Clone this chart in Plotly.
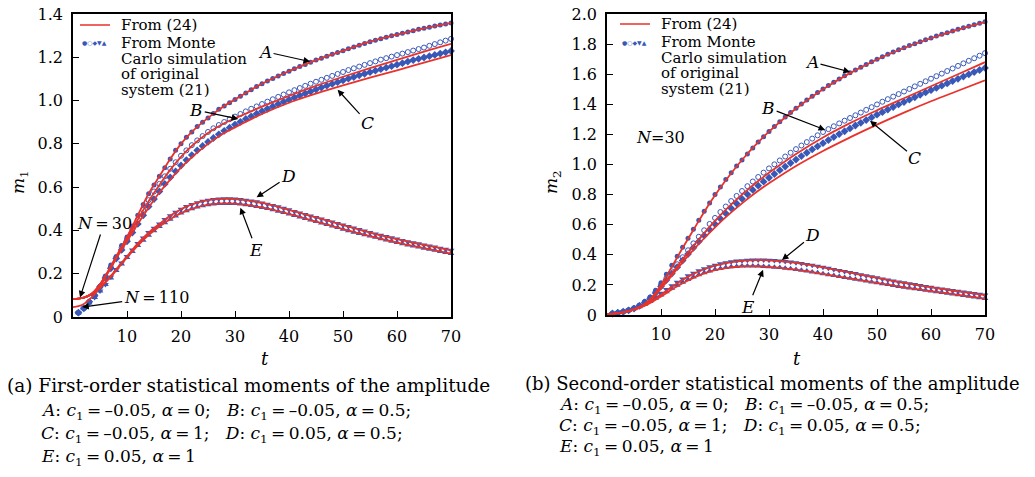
import plotly.graph_objects as go

# Zeitachsen: Monte-Carlo-Punkte (t = 1..70) und Kurven aus Gl. (24)
t_mc = list(range(1, 71))
t_th = [0, 1, 2, 3, 4, 5, 6, 7, 8, 10, 12, 14, 16, 18, 20, 22, 25, 28, 30, 35, 40, 45, 50, 55, 60, 65, 70]

# ---- (a) m1, Monte Carlo ----
m1_mc_A = [0.02, 0.04, 0.07, 0.10, 0.14, 0.19, 0.24, 0.28, 0.33, 0.37,
           0.42, 0.47, 0.52, 0.57, 0.61, 0.65, 0.69, 0.73, 0.77, 0.80,
           0.83, 0.855, 0.88, 0.90, 0.92, 0.94, 0.96, 0.975, 0.99, 1.005,
           1.02, 1.035, 1.05, 1.065, 1.078, 1.09, 1.102, 1.114, 1.125, 1.136,
           1.147, 1.157, 1.167, 1.177, 1.187, 1.196, 1.205, 1.214, 1.222, 1.23,
           1.239, 1.248, 1.256, 1.264, 1.272, 1.279, 1.286, 1.293, 1.299, 1.305,
           1.311, 1.317, 1.323, 1.329, 1.334, 1.339, 1.344, 1.349, 1.354, 1.358]
m1_mc_B = [0.02, 0.04, 0.07, 0.10, 0.14, 0.185, 0.23, 0.275, 0.32, 0.36,
           0.405, 0.45, 0.495, 0.54, 0.58, 0.615, 0.65, 0.685, 0.715, 0.745,
           0.77, 0.794, 0.816, 0.836, 0.855, 0.872, 0.887, 0.901, 0.914, 0.926,
           0.938, 0.95, 0.962, 0.973, 0.984, 0.995, 1.006, 1.017, 1.028, 1.038,
           1.048, 1.058, 1.068, 1.078, 1.087, 1.096, 1.105, 1.114, 1.123, 1.132,
           1.141, 1.149, 1.157, 1.165, 1.173, 1.181, 1.189, 1.196, 1.203, 1.21,
           1.217, 1.224, 1.231, 1.238, 1.245, 1.253, 1.261, 1.269, 1.277, 1.285]
m1_mc_C = [0.02, 0.04, 0.07, 0.10, 0.14, 0.18, 0.225, 0.27, 0.31, 0.35,
           0.39, 0.43, 0.47, 0.51, 0.545, 0.58, 0.615, 0.645, 0.673, 0.70,
           0.725, 0.748, 0.77, 0.79, 0.809, 0.827, 0.844, 0.86, 0.875, 0.889,
           0.902, 0.915, 0.927, 0.939, 0.951, 0.962, 0.973, 0.984, 0.994, 1.004,
           1.014, 1.024, 1.033, 1.042, 1.051, 1.06, 1.069, 1.077, 1.085, 1.093,
           1.101, 1.109, 1.117, 1.124, 1.131, 1.138, 1.145, 1.152, 1.159, 1.166,
           1.173, 1.18, 1.187, 1.193, 1.199, 1.205, 1.211, 1.217, 1.223, 1.229]
m1_mc_D = [0.02, 0.04, 0.065, 0.09, 0.12, 0.15, 0.185, 0.22, 0.25, 0.28,
           0.31, 0.34, 0.365, 0.39, 0.41, 0.43, 0.45, 0.468, 0.484, 0.498,
           0.51, 0.52, 0.528, 0.535, 0.54, 0.543, 0.545, 0.546, 0.546, 0.545,
           0.543, 0.54, 0.536, 0.532, 0.527, 0.521, 0.515, 0.509, 0.502, 0.495,
           0.488, 0.481, 0.474, 0.467, 0.46, 0.453, 0.446, 0.439, 0.432, 0.425,
           0.418, 0.411, 0.404, 0.397, 0.39, 0.384, 0.378, 0.372, 0.366, 0.36,
           0.354, 0.348, 0.343, 0.338, 0.333, 0.328, 0.323, 0.318, 0.313, 0.308]
m1_mc_E = [0.02, 0.04, 0.065, 0.09, 0.12, 0.15, 0.18, 0.215, 0.245, 0.275,
           0.303, 0.33, 0.355, 0.378, 0.399, 0.418, 0.436, 0.452, 0.467, 0.48,
           0.491, 0.5, 0.508, 0.514, 0.519, 0.522, 0.524, 0.525, 0.525, 0.524,
           0.522, 0.519, 0.515, 0.511, 0.506, 0.501, 0.495, 0.489, 0.483, 0.476,
           0.469, 0.462, 0.455, 0.448, 0.441, 0.434, 0.427, 0.42, 0.413, 0.406,
           0.399, 0.392, 0.386, 0.38, 0.374, 0.368, 0.362, 0.356, 0.35, 0.344,
           0.338, 0.333, 0.328, 0.323, 0.318, 0.313, 0.308, 0.303, 0.298, 0.293]

# ---- (a) m1, Gl. (24), N = 30 ----
m1_th_A = [0.083, 0.085, 0.09, 0.10, 0.12, 0.15, 0.19, 0.235, 0.28, 0.37, 0.47, 0.57, 0.65, 0.73,
           0.80, 0.855, 0.92, 0.975, 1.005, 1.078, 1.136, 1.187, 1.23, 1.272, 1.305, 1.334, 1.358]
m1_th_B = [0.083, 0.085, 0.09, 0.10, 0.12, 0.15, 0.19, 0.23, 0.275, 0.36, 0.45, 0.535, 0.61, 0.68,
           0.74, 0.79, 0.85, 0.895, 0.918, 0.972, 1.022, 1.068, 1.11, 1.15, 1.188, 1.226, 1.262]
m1_th_C = [0.083, 0.085, 0.09, 0.10, 0.12, 0.15, 0.185, 0.225, 0.27, 0.35, 0.43, 0.505, 0.575, 0.635,
           0.69, 0.738, 0.80, 0.85, 0.876, 0.938, 0.99, 1.032, 1.07, 1.106, 1.14, 1.175, 1.21]
m1_th_D = [0.083, 0.085, 0.09, 0.10, 0.115, 0.135, 0.16, 0.19, 0.22, 0.28, 0.34, 0.39, 0.43, 0.468,
           0.498, 0.52, 0.54, 0.546, 0.545, 0.527, 0.495, 0.46, 0.425, 0.39, 0.36, 0.333, 0.308]
m1_th_E = [0.083, 0.085, 0.09, 0.10, 0.115, 0.135, 0.16, 0.185, 0.215, 0.275, 0.33, 0.378, 0.418, 0.452,
           0.48, 0.5, 0.519, 0.525, 0.524, 0.506, 0.476, 0.441, 0.406, 0.374, 0.344, 0.318, 0.293]
# N = 110, nur Anfangsbereich
t_n110 = [0, 1, 2, 3, 4, 5, 6]
m1_th_n110 = [0.046, 0.05, 0.06, 0.08, 0.105, 0.14, 0.18]

# ---- (b) m2, Monte Carlo ----
m2_mc_A = [0.01, 0.015, 0.022, 0.032, 0.045, 0.065, 0.09, 0.12, 0.165, 0.215,
           0.27, 0.33, 0.39, 0.45, 0.51, 0.57, 0.63, 0.69, 0.745, 0.80,
           0.85, 0.90, 0.945, 0.99, 1.03, 1.07, 1.11, 1.15, 1.185, 1.22,
           1.252, 1.284, 1.315, 1.345, 1.374, 1.402, 1.428, 1.454, 1.479, 1.502,
           1.525, 1.547, 1.568, 1.589, 1.609, 1.628, 1.647, 1.665, 1.683, 1.70,
           1.716, 1.732, 1.747, 1.762, 1.776, 1.79, 1.803, 1.816, 1.829, 1.841,
           1.853, 1.865, 1.876, 1.887, 1.898, 1.909, 1.919, 1.929, 1.939, 1.948]
m2_mc_B = [0.01, 0.015, 0.022, 0.032, 0.045, 0.063, 0.087, 0.116, 0.155, 0.2,
           0.245, 0.29, 0.337, 0.384, 0.43, 0.476, 0.52, 0.563, 0.605, 0.645,
           0.684, 0.721, 0.757, 0.791, 0.824, 0.856, 0.887, 0.917, 0.946, 0.974,
           1.001, 1.027, 1.053, 1.078, 1.102, 1.126, 1.149, 1.172, 1.194, 1.216,
           1.235, 1.254, 1.273, 1.291, 1.309, 1.327, 1.345, 1.363, 1.381, 1.399,
           1.417, 1.434, 1.451, 1.468, 1.485, 1.502, 1.519, 1.536, 1.553, 1.57,
           1.587, 1.604, 1.621, 1.638, 1.655, 1.672, 1.689, 1.706, 1.723, 1.74]
m2_mc_C = [0.01, 0.015, 0.022, 0.031, 0.043, 0.06, 0.083, 0.11, 0.147, 0.19,
           0.232, 0.275, 0.318, 0.362, 0.405, 0.447, 0.488, 0.528, 0.567, 0.604,
           0.64, 0.675, 0.709, 0.741, 0.772, 0.802, 0.831, 0.859, 0.886, 0.912,
           0.937, 0.962, 0.986, 1.01, 1.033, 1.056, 1.078, 1.1, 1.121, 1.142,
           1.162, 1.182, 1.202, 1.221, 1.24, 1.259, 1.277, 1.295, 1.313, 1.331,
           1.348, 1.365, 1.382, 1.399, 1.415, 1.431, 1.447, 1.463, 1.479, 1.494,
           1.509, 1.524, 1.539, 1.554, 1.569, 1.584, 1.599, 1.614, 1.628, 1.642]
m2_mc_D = [0.01, 0.015, 0.022, 0.031, 0.043, 0.058, 0.076, 0.097, 0.12, 0.145,
           0.17, 0.195, 0.218, 0.24, 0.26, 0.278, 0.294, 0.308, 0.32, 0.331,
           0.34, 0.347, 0.353, 0.358, 0.361, 0.363, 0.365, 0.365, 0.365, 0.364,
           0.362, 0.359, 0.356, 0.352, 0.347, 0.342, 0.336, 0.33, 0.324, 0.317,
           0.31, 0.303, 0.296, 0.289, 0.282, 0.275, 0.268, 0.261, 0.254, 0.247,
           0.24, 0.233, 0.226, 0.22, 0.214, 0.208, 0.202, 0.196, 0.19, 0.184,
           0.178, 0.173, 0.168, 0.163, 0.158, 0.153, 0.148, 0.143, 0.138, 0.133]
m2_mc_E = [0.01, 0.015, 0.021, 0.03, 0.041, 0.055, 0.071, 0.09, 0.111, 0.133,
           0.155, 0.177, 0.198, 0.218, 0.236, 0.253, 0.268, 0.281, 0.292, 0.302,
           0.309, 0.315, 0.32, 0.323, 0.325, 0.326, 0.326, 0.325, 0.323, 0.321,
           0.318, 0.315, 0.311, 0.307, 0.302, 0.297, 0.292, 0.286, 0.28, 0.274,
           0.268, 0.262, 0.256, 0.25, 0.244, 0.238, 0.232, 0.226, 0.22, 0.214,
           0.208, 0.202, 0.196, 0.19, 0.185, 0.18, 0.175, 0.17, 0.165, 0.16,
           0.155, 0.15, 0.145, 0.14, 0.135, 0.13, 0.125, 0.12, 0.115, 0.11]

# ---- (b) m2, Gl. (24) ----
m2_th_A = [0.005, 0.008, 0.012, 0.018, 0.026, 0.037, 0.052, 0.075, 0.105, 0.2, 0.32, 0.445, 0.565, 0.685,
           0.795, 0.895, 1.03, 1.148, 1.218, 1.372, 1.5, 1.607, 1.698, 1.774, 1.839, 1.896, 1.946]
m2_th_B = [0.005, 0.008, 0.012, 0.018, 0.026, 0.037, 0.052, 0.073, 0.1, 0.185, 0.275, 0.37, 0.46, 0.545,
           0.625, 0.70, 0.80, 0.89, 0.945, 1.07, 1.18, 1.275, 1.36, 1.44, 1.52, 1.60, 1.68]
m2_th_C = [0.005, 0.008, 0.012, 0.018, 0.026, 0.036, 0.05, 0.07, 0.096, 0.175, 0.262, 0.35, 0.433, 0.51,
           0.582, 0.65, 0.742, 0.825, 0.875, 0.99, 1.09, 1.18, 1.265, 1.345, 1.42, 1.49, 1.56]
m2_th_D = [0.005, 0.008, 0.012, 0.018, 0.026, 0.037, 0.05, 0.067, 0.087, 0.135, 0.187, 0.234, 0.273, 0.304,
           0.328, 0.345, 0.36, 0.364, 0.363, 0.346, 0.316, 0.281, 0.246, 0.213, 0.183, 0.157, 0.132]
m2_th_E = [0.005, 0.008, 0.012, 0.017, 0.025, 0.035, 0.047, 0.062, 0.08, 0.123, 0.169, 0.211, 0.247, 0.276,
           0.298, 0.312, 0.324, 0.324, 0.32, 0.301, 0.273, 0.243, 0.213, 0.184, 0.159, 0.134, 0.109]

# Achsenbeschriftung
x_ticks = [10, 20, 30, 40, 50, 60, 70]
y1_ticks = [0, 0.2, 0.4, 0.6, 0.8, 1.0, 1.2, 1.4]
y1_text = ["0", "0.2", "0.4", "0.6", "0.8", "1.0", "1.2", "1.4"]
y2_ticks = [0, 0.2, 0.4, 0.6, 0.8, 1.0, 1.2, 1.4, 1.6, 1.8, 2.0]
y2_text = ["0", "0.2", "0.4", "0.6", "0.8", "1.0", "1.2", "1.4", "1.6", "1.8", "2.0"]

BLUE = "#3858b8"
RED = "#e8322a"
SERIF = "DejaVu Serif"

symbols = {"A": "circle", "B": "circle-open", "C": "diamond", "D": "triangle-down", "E": "triangle-up"}
sizes = {"A": 5, "B": 5, "C": 6, "D": 6, "E": 6}

# Seite hat 8 px Rand (body margin): Figur kleiner machen und Positionen umrechnen
OFF = 8.0
W, H = 1035.0 - 2 * OFF, 477.0 - 2 * OFF


def fx(x):
    return (x - OFF) / W


def fy(y):
    return 1 - (y - OFF) / H


fig = go.Figure()

panels = [
    ("x", "y", {"A": m1_mc_A, "B": m1_mc_B, "C": m1_mc_C, "D": m1_mc_D, "E": m1_mc_E},
     {"A": m1_th_A, "B": m1_th_B, "C": m1_th_C, "D": m1_th_D, "E": m1_th_E}),
    ("x2", "y2", {"A": m2_mc_A, "B": m2_mc_B, "C": m2_mc_C, "D": m2_mc_D, "E": m2_mc_E},
     {"A": m2_th_A, "B": m2_th_B, "C": m2_th_C, "D": m2_th_D, "E": m2_th_E}),
]

for xa, ya, mc, th in panels:
    # Monte-Carlo-Punkte zuerst, rote Kurven darüber
    for k in "ABCDE":
        fig.add_trace(go.Scatter(
            x=t_mc, y=mc[k], mode="markers", xaxis=xa, yaxis=ya,
            marker=dict(symbol=symbols[k], size=sizes[k], color=BLUE,
                        line=dict(width=1 if k == "B" else 0, color=BLUE)),
            cliponaxis=False))
    for k in "ABCDE":
        fig.add_trace(go.Scatter(
            x=t_th, y=th[k], mode="lines", xaxis=xa, yaxis=ya,
            line=dict(color=RED, width=1.8, shape="spline")))

fig.add_trace(go.Scatter(x=t_n110, y=m1_th_n110, mode="lines", xaxis="x", yaxis="y",
                         line=dict(color=RED, width=1.8, shape="spline")))

axis_common = dict(showgrid=False, zeroline=False, showline=True, linecolor="black",
                   linewidth=1.5, mirror=True, ticks="inside", ticklen=6, tickwidth=1.2,
                   tickcolor="black", automargin=False, ticklabeloverflow="allow",
                   tickfont=dict(family=SERIF, size=16, color="black"))

fig.update_layout(
    width=W, height=H, margin=dict(l=0, r=0, t=0, b=0, autoexpand=False),
    paper_bgcolor="white", plot_bgcolor="white", showlegend=False,
    font=dict(family=SERIF, size=16, color="black"),
    xaxis=dict(domain=[fx(73), fx(451)], range=[0, 70], tickvals=x_ticks,
               ticklabelstandoff=4, anchor="y", **axis_common),
    yaxis=dict(domain=[fy(317), fy(14)], range=[0, 1.4], tickvals=y1_ticks, ticktext=y1_text,
               ticklabelstandoff=5, anchor="x", **axis_common),
    xaxis2=dict(domain=[fx(607), fx(985)], range=[0, 70], tickvals=x_ticks,
                ticklabelstandoff=4, anchor="y2", **axis_common),
    yaxis2=dict(domain=[fy(315), fy(14)], range=[0, 2.0], tickvals=y2_ticks, ticktext=y2_text,
                ticklabelstandoff=5, anchor="x2", **axis_common),
)


def note(text, x, y, size=16, xanchor="center", color="black", angle=0):
    fig.add_annotation(text=text, x=fx(x), y=fy(y), xref="paper", yref="paper", showarrow=False,
                       xanchor=xanchor, yanchor="middle", textangle=angle,
                       font=dict(family=SERIF, size=size, color=color))


def arrow(text, xa, ya, t, v, ax, ay, size=17):
    fig.add_annotation(text=text, x=t, y=v, xref=xa, yref=ya, ax=ax, ay=ay,
                       showarrow=True, arrowhead=2, arrowsize=1.1, arrowwidth=1.2,
                       arrowcolor="black", standoff=0,
                       font=dict(family=SERIF, size=size, color="black"))


ts = "\u2009"
# Kurvenbezeichnungen (a)
arrow("<i>A</i>", "x", "y", 43.9, 1.18, -45, -10)
arrow("<i>B</i>", "x", "y", 30.6, 0.915, -42, -9)
arrow("<i>C</i>", "x", "y", 49, 1.05, 30, 33)
arrow("<i>D</i>", "x", "y", 34, 0.553, 32, -21)
arrow("<i>E</i>", "x", "y", 31, 0.505, 16, 42)
arrow("<i>N</i>" + ts + "=" + ts + "30", "x", "y", 1.3, 0.09, 24, -74, size=16)
arrow("<i>N</i>" + ts + "=" + ts + "110", "x", "y", 1.7, 0.046, 74, -10, size=16)

# Kurvenbezeichnungen (b)
arrow("<i>A</i>", "x2", "y2", 45, 1.615, -38, -10)
arrow("<i>B</i>", "x2", "y2", 40.4, 1.23, -57, -22)
arrow("<i>C</i>", "x2", "y2", 48.7, 1.29, 45, 37)
arrow("<i>D</i>", "x2", "y2", 32.4, 0.365, 31, -25)
arrow("<i>E</i>", "x2", "y2", 28.9, 0.30, -15, 37)
note("<i>N</i>=30", 660, 137, size=16)

# Achsentitel
note("<i>m</i><sub>1</sub>", 20, 182, size=17, angle=-90)
note("<i>m</i><sub>2</sub>", 553, 182, size=17, angle=-90)
note("<i>t</i>", 265, 358, size=18)
note("<i>t</i>", 797, 358, size=18)

# Legenden
for x0, y0 in [(80, 25), (620, 24)]:
    fig.add_shape(type="line", xref="paper", yref="paper",
                  x0=fx(x0), x1=fx(x0 + 30), y0=fy(y0), y1=fy(y0),
                  line=dict(color=RED, width=1.5))
    note("From (24)", x0 + 39, y0, size=15, xanchor="left")
    note("●○◆▼▲", x0, y0 + 18, size=6, xanchor="left", color=BLUE)
    for i, line in enumerate(["From Monte", "Carlo simulation", "of original", "system (21)"]):
        note(line, x0 + 39, y0 + 18 + 15.7 * i, size=15, xanchor="left")

# Bildunterschriften
sp = "\u00a0\u00a0\u00a0"
eq = ts + "=" + ts
cap_lines = [
    "<i>A</i>: <i>c</i><sub>1</sub>" + eq + "–0.05, <i>α</i>" + eq + "0;" + sp
    + "<i>B</i>: <i>c</i><sub>1</sub>" + eq + "–0.05, <i>α</i>" + eq + "0.5;",
    "<i>C</i>: <i>c</i><sub>1</sub>" + eq + "–0.05, <i>α</i>" + eq + "1;" + sp
    + "<i>D</i>: <i>c</i><sub>1</sub>" + eq + "0.05, <i>α</i>" + eq + "0.5;",
    "<i>E</i>: <i>c</i><sub>1</sub>" + eq + "0.05, <i>α</i>" + eq + "1",
]
note("(a) First-order statistical moments of the amplitude", 5, 385, size=18.5, xanchor="left")
for i, line in enumerate(cap_lines):
    note(line, 39, 411 + 23 * i, size=17, xanchor="left")
note("(b) Second-order statistical moments of the amplitude", 523, 383, size=18, xanchor="left")
for i, line in enumerate(cap_lines):
    note(line, 557, 405 + 21 * i, size=17, xanchor="left")

fig.write_html("out.html")
